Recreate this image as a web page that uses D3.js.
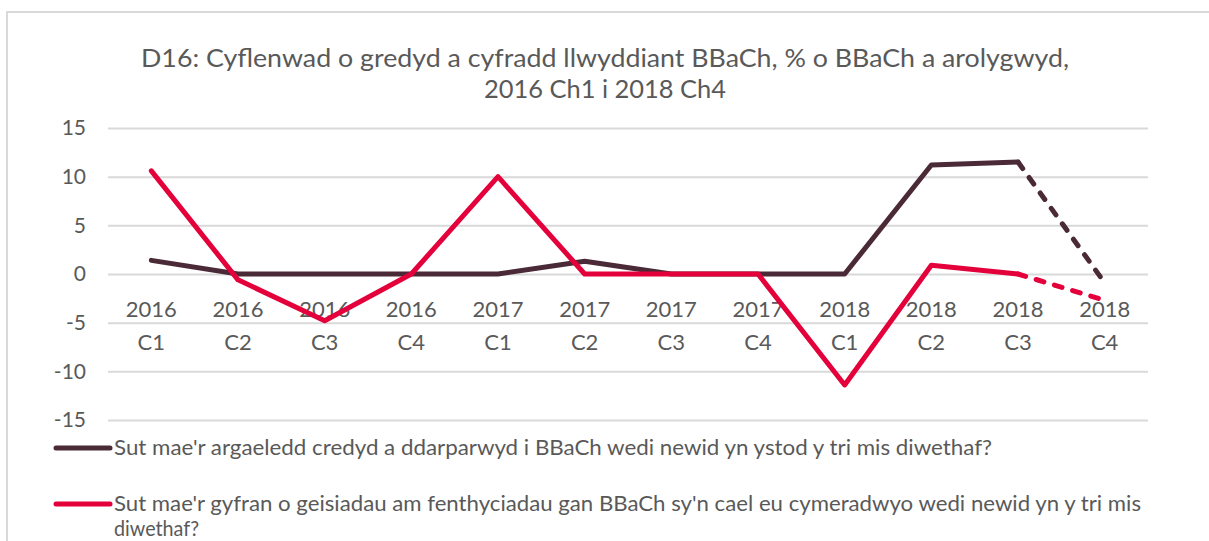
<!DOCTYPE html>
<html>
<head>
<meta charset="utf-8">
<script src="https://cdn.jsdelivr.net/npm/d3@7"></script>
<style>
  body { margin: 0; background: #fff; }
  svg { display: block; font-family: Lato, "Open Sans", sans-serif; }
</style>
</head>
<body>
<svg id="chart" width="1209" height="541"></svg>
<script>
// data
const years = ["2016", "2016", "2016", "2016", "2017", "2017", "2017", "2017", "2018", "2018", "2018", "2018"];
const quarters = ["C1", "C2", "C3", "C4", "C1", "C2", "C3", "C4", "C1", "C2", "C3", "C4"];
const credydValues = [1.4, 0, 0, 0, 0, 1.3, 0, 0, 0, 11.2, 11.5, -0.9];
const benthygValues = [10.6, -0.6, -4.8, 0, 10, 0, 0, 0, -11.4, 0.9, 0, -2.7];
const yTicks = [-15, -10, -5, 0, 5, 10, 15];
const titleLines = ["D16: Cyflenwad o gredyd a cyfradd llwyddiant BBaCh, % o BBaCh a arolygwyd,", "2016 Ch1 i 2018 Ch4"];
const legendLabels = [
  ["Sut mae'r argaeledd credyd a ddarparwyd i BBaCh wedi newid yn ystod y tri mis diwethaf?"],
  ["Sut mae'r gyfran o geisiadau am fenthyciadau gan BBaCh sy'n cael eu cymeradwyo wedi newid yn y tri mis", "diwethaf?"]
];

const colDark = "#4b2a37", colRed = "#e4003b", gridCol = "#d9d9d9", textCol = "#595959";

const svg = d3.select("#chart");
const plotL = 108, plotR = 1148, plotT = 128, plotB = 420;

// chart frame (only top and left edges fall inside the crop)
svg.append("path")
  .attr("d", "M7,1000 V12 H1300")
  .attr("fill", "none").attr("stroke", gridCol).attr("stroke-width", 2);

// title
const titleWidths = [928, 242];
svg.append("g").selectAll("text").data(titleLines).enter().append("text")
  .attr("x", 605)
  .attr("y", (d, i) => 67 + i * 31)
  .attr("text-anchor", "middle")
  .attr("font-size", 25)
  .attr("fill", textCol)
  .attr("textLength", (d, i) => titleWidths[i])
  .attr("lengthAdjust", "spacingAndGlyphs")
  .text(d => d);

const idx = d3.range(years.length);

const x = d3.scalePoint().domain(idx).range([plotL, plotR]).padding(0.5);
const y = d3.scaleLinear().domain([-15, 15]).range([plotB, plotT]);

// gridlines + y labels
const yAxis = svg.append("g")
  .attr("transform", "translate(" + plotL + ",0)")
  .call(d3.axisLeft(y).tickValues(yTicks).tickSize(-(plotR - plotL)).tickPadding(22).tickFormat(d3.format("d")));
yAxis.select(".domain").remove();
yAxis.selectAll(".tick line").attr("stroke", gridCol).attr("stroke-width", 2);
yAxis.selectAll(".tick text")
  .attr("fill", textCol).attr("font-size", 21).attr("font-family", "Lato, sans-serif")
  .text(d => d < 0 ? "-" + Math.abs(d) : d);

// category labels, two lines, hung just below the zero line
const xAxis = svg.append("g").attr("transform", "translate(0," + y(0) + ")");
const xt = xAxis.selectAll("text").data(idx).enter().append("text")
  .attr("text-anchor", "middle")
  .attr("font-size", 22)
  .attr("fill", textCol);
xt.append("tspan").attr("x", d => x(d)).attr("y", 43).text(d => years[d]);
xt.append("tspan").attr("x", d => x(d)).attr("y", 76).text(d => quarters[d]);

// lines: solid to 2018 C3, dashed for the last step
const line = d3.line().x(d => x(d.i)).y(d => y(d.v));
function drawSeries(values, color) {
  const pts = values.map((v, i) => ({ i: i, v: v }));
  const n = pts.length;
  svg.append("path").datum(pts.slice(0, n - 1))
    .attr("d", line).attr("fill", "none").attr("stroke", color)
    .attr("stroke-width", 5).attr("stroke-linejoin", "round").attr("stroke-linecap", "round");
  svg.append("path").datum(pts.slice(n - 2))
    .attr("d", line).attr("fill", "none").attr("stroke", color)
    .attr("stroke-width", 5).attr("stroke-linecap", "round")
    .attr("stroke-dasharray", "8,11");
}
drawSeries(credydValues, colDark);
drawSeries(benthygValues, colRed);

// legend
const legend = svg.append("g").selectAll("g").data(legendLabels).enter().append("g")
  .attr("transform", (d, i) => "translate(0," + (448 + i * 56) + ")");
legend.append("line")
  .attr("x1", 56).attr("x2", 110).attr("y1", 0).attr("y2", 0)
  .attr("stroke", (d, i) => i === 0 ? colDark : colRed)
  .attr("stroke-width", 5).attr("stroke-linecap", "round");
const legendWidths = [[878], [1027, 85]];
legend.each(function (d, i) {
  d3.select(this).selectAll("text").data(d).enter().append("text")
    .attr("x", 114)
    .attr("y", (t, j) => 7 + j * 25)
    .attr("font-size", 21)
    .attr("fill", textCol)
    .attr("textLength", (t, j) => legendWidths[i][j])
    .attr("lengthAdjust", "spacingAndGlyphs")
    .text(t => t);
});
</script>
</body>
</html>
